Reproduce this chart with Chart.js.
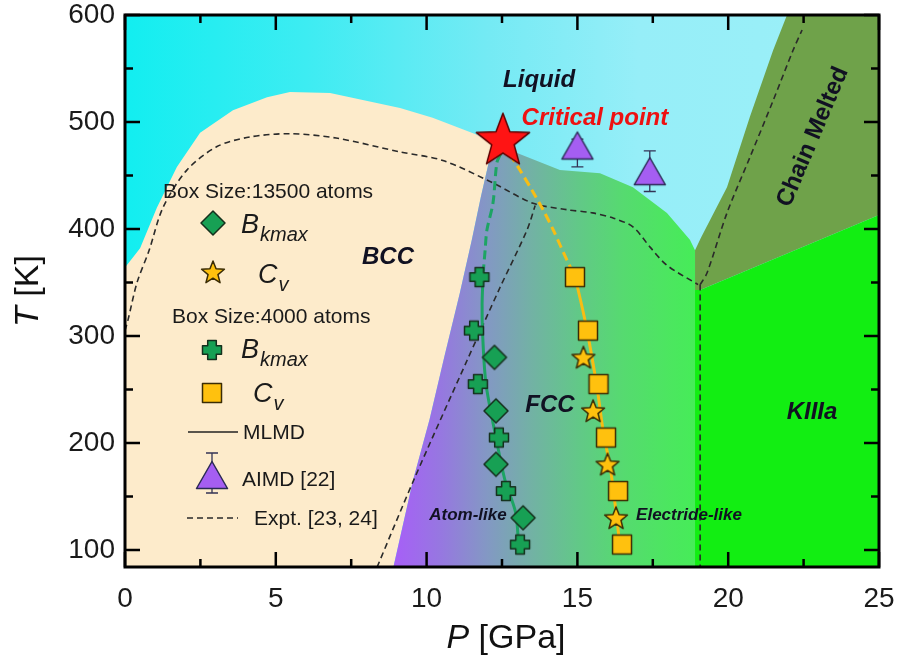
<!DOCTYPE html>
<html>
<head>
<meta charset="utf-8">
<script src="https://cdn.jsdelivr.net/npm/chart.js@4.4.1/dist/chart.umd.min.js"></script>
<style>
  html, body { margin: 0; padding: 0; background: #fff; }
</style>
</head>
<body>
<canvas id="myChart" width="897" height="663"></canvas>
<script>
const FONT = '"Liberation Sans", Arial, Helvetica, sans-serif';
Chart.defaults.font.family = FONT;

// axes
const yMin = 84;
const xTicks = [0, 5, 10, 15, 20, 25];
const xMinor = [2.5, 7.5, 12.5, 17.5, 22.5];
const yTicks = [100, 200, 300, 400, 500, 600];
const yMinor = [150, 250, 350, 450, 550];

// Box size 13500 atoms
const bk13500_P = [12.25, 12.3, 12.3, 13.2];
const bk13500_T = [280, 230, 180, 130];
const cv13500_P = [15.2, 15.52, 16.0, 16.28];
const cv13500_T = [280, 230, 180, 130];

// Box size 4000 atoms
const bk4000_P = [11.75, 11.57, 11.7, 12.4, 12.63, 13.1];
const bk4000_T = [355, 305, 255, 205, 155, 105];
const cv4000_P = [14.92, 15.35, 15.7, 15.95, 16.35, 16.48];
const cv4000_T = [355, 305, 255, 205, 155, 105];

// AIMD [22]
const aimd_P = [15.0, 17.4];
const aimd_T = [478, 454];
const aimd_errLow = [20, 19];
const aimd_errHigh = [6, 19];

const critical_P = [12.53];
const critical_T = [482];

// MLMD fitted lines
const mlmdBkDash = [[12.45, 470], [12.33, 462], [12.2, 424], [12.0, 399], [11.94, 380], [11.88, 360]];
const mlmdBk = [[11.88, 360], [11.84, 330], [11.86, 300], [11.97, 255], [12.3, 205], [12.6, 165], [12.95, 135], [13.05, 106]];
const mlmdCvDash = [[12.75, 470], [13.03, 458], [13.5, 436], [13.86, 418], [14.2, 399], [14.65, 371], [14.88, 358]];
const mlmdCv = [[14.88, 358], [15.0, 346], [15.3, 308], [15.65, 252], [15.85, 212], [16.1, 175], [16.3, 131], [16.4, 106]];

// Expt. [23, 24]
const exptMelt = [[0, 305], [0.1, 315], [0.4, 350], [0.8, 380], [1.26, 420], [2.05, 455], [3.05, 477], [4.14, 486],
  [5.47, 489], [7.0, 485], [9.12, 472], [10.54, 464], [12.2, 443], [13.53, 424], [14.65, 418], [15.5, 415],
  [16.2, 410], [16.84, 402], [17.41, 383], [17.97, 366], [19.0, 348]];
const exptVert = [[19.07, 348], [19.07, yMin]];
const exptChain = [[19.07, 348], [19.3, 359], [19.96, 415], [20.72, 467], [21.49, 520], [22.15, 567], [22.45, 586]];
const exptBccFcc = [[8.36, yMin], [9.6, 167], [11.34, 277], [12.43, 345], [13.33, 399], [13.6, 422]];

// phase regions
const liquidArea = [[0, yMin], [0, 600], [25, 600], [25, yMin]];
const bccArea = [[0, yMin], [0, 364], [0.5, 382], [1.06, 420], [1.72, 458], [2.49, 490], [3.58, 511], [4.71, 523],
  [5.47, 528], [6.8, 527], [9.12, 513], [10.2, 504], [11.67, 488], [12.3, 479],
  [12.1, 467], [11.8, 430], [11.5, 390], [11.1, 340], [10.6, 282], [10.1, 222], [9.55, 165], [8.9, yMin]];
const fccArea = [[8.9, yMin], [9.55, 165], [10.1, 222], [10.6, 282], [11.1, 340], [11.5, 390], [11.8, 430], [12.1, 467],
  [12.3, 480], [12.7, 478], [13.0, 471], [14.42, 455], [15.75, 452], [16.84, 439], [17.97, 415], [18.73, 390],
  [18.9, 380], [18.9, yMin]];
const chainArea = [[18.9, 343], [18.9, 380], [19.1, 392], [19.96, 439], [20.72, 505], [21.49, 567], [21.95, 600],
  [25, 600], [25, 413], [19.07, 343]];
const kiiiaArea = [[18.9, yMin], [18.9, 343], [19.07, 343], [25, 413], [25, yMin]];

const pts = (arr) => arr.map(([x, y]) => ({ x, y }));
const zip = (xs, ys) => xs.map((x, i) => ({ x, y: ys[i] }));

// marker images
function markerCanvas(w, h, draw) {
  const c = document.createElement("canvas");
  c.width = w;
  c.height = h;
  const g = c.getContext("2d");
  g.translate(w / 2, h / 2);
  g.lineJoin = "round";
  draw(g);
  return c;
}
function starPath(g, R, r) {
  g.beginPath();
  for (let i = 0; i < 10; i++) {
    const rad = i % 2 ? r : R;
    const a = -Math.PI / 2 + (i * Math.PI) / 5;
    g.lineTo(rad * Math.cos(a), rad * Math.sin(a));
  }
  g.closePath();
}
const GREEN = "#17a054";
const ORANGE = "#ffc10e";

const diamondImg = markerCanvas(28, 28, (g) => {
  g.beginPath();
  g.moveTo(0, -12); g.lineTo(12, 0); g.lineTo(0, 12); g.lineTo(-12, 0);
  g.closePath();
  g.fillStyle = GREEN; g.fill();
  g.strokeStyle = "#15301d"; g.lineWidth = 1.5; g.stroke();
});
const plusImg = markerCanvas(24, 24, (g) => {
  const s = 9.5, a = 4.3;
  g.beginPath();
  [[-a, -s], [a, -s], [a, -a], [s, -a], [s, a], [a, a], [a, s], [-a, s], [-a, a], [-s, a], [-s, -a], [-a, -a]]
    .forEach(([x, y]) => g.lineTo(x, y));
  g.closePath();
  g.fillStyle = GREEN; g.fill();
  g.strokeStyle = "#15301d"; g.lineWidth = 1.5; g.stroke();
});
const starImg = markerCanvas(28, 28, (g) => {
  g.translate(0, 1);
  starPath(g, 12, 5.2);
  g.fillStyle = ORANGE; g.fill();
  g.strokeStyle = "#3a2c05"; g.lineWidth = 1.5; g.stroke();
});
const squareImg = markerCanvas(24, 24, (g) => {
  g.fillStyle = ORANGE;
  g.fillRect(-9.5, -9.5, 19, 19);
  g.strokeStyle = "#3a2c05"; g.lineWidth = 1.5;
  g.strokeRect(-9.5, -9.5, 19, 19);
});
const triImg = markerCanvas(36, 32, (g) => {
  g.beginPath();
  g.moveTo(0, -13.5); g.lineTo(15.5, 13.5); g.lineTo(-15.5, 13.5);
  g.closePath();
  g.fillStyle = "#a55ef2"; g.fill();
  g.strokeStyle = "#2a2a55"; g.lineWidth = 1.5; g.stroke();
});
const critImg = markerCanvas(64, 64, (g) => {
  starPath(g, 28, 11.8);
  g.fillStyle = "#ff1414"; g.fill();
  g.strokeStyle = "#5a0000"; g.lineWidth = 1.5; g.stroke();
});

function hGrad(stops, fallback) {
  return (c) => {
    const ch = c.chart;
    if (!ch.chartArea) return fallback;
    const xs = ch.scales.x;
    const g = ch.ctx.createLinearGradient(xs.getPixelForValue(0), 0, xs.getPixelForValue(25), 0);
    stops.forEach(([p, col]) => g.addColorStop(p / 25, col));
    return g;
  };
}

function area(label, points, bg, order) {
  return { label, data: pts(points), showLine: true, fill: "shape", backgroundColor: bg,
    borderWidth: 0, pointRadius: 0, tension: 0, order };
}
function curve(label, points, color, width, dash, tension, order) {
  return { label, data: pts(points), showLine: true, fill: false, borderColor: color, borderWidth: width,
    borderDash: dash, pointRadius: 0, tension, order };
}
function markers(label, data, img, order) {
  return { label, data, pointStyle: img, pointRadius: 10, showLine: false, order };
}

const datasets = [
  area("Liquid", liquidArea, hGrad([[0, "#12eef0"], [6, "#3decf2"], [12, "#74eaf4"], [17, "#96eef8"], [25, "#9cf0f8"]], "#6ef"), 14),
  area("BCC", bccArea, "#fdebcb", 13),
  area("Chain Melted", chainArea, "#6fa24a", 12),
  area("KIIIa", kiiiaArea, "#12ee12", 11),
  area("FCC", fccArea, hGrad([[0, "#a660f6"], [9, "#a660f6"], [10.5, "#9678e0"], [12, "#8398c4"], [13.5, "#72b2a4"],
    [15, "#62c888"], [16.5, "#56da70"], [18, "#4ce660"], [18.9, "#46ec58"], [25, "#46ec58"]], "#7b9"), 10),
  curve("Expt melt", exptMelt, "#2a2a2a", 1.6, [6, 4], 0.3, 5),
  curve("Expt vertical", exptVert, "#2a2a2a", 1.6, [6, 4], 0, 5),
  curve("Expt chain", exptChain, "#2a2a2a", 1.6, [6, 4], 0.3, 5),
  curve("Expt bcc-fcc", exptBccFcc, "#2a2a2a", 1.6, [6, 4], 0.3, 5),
  curve("MLMD Bk dash", mlmdBkDash, "#1da464", 3, [9, 5], 0.3, 3),
  curve("MLMD Bk", mlmdBk, "#1da464", 3, [], 0.3, 3),
  curve("MLMD Cv dash", mlmdCvDash, "#f7bd14", 3, [9, 5], 0.3, 3),
  curve("MLMD Cv", mlmdCv, "#f7bd14", 3, [], 0.3, 3),
  markers("AIMD [22]", zip(aimd_P, aimd_T), triImg, 2),
  markers("Bkmax 4000", zip(bk4000_P, bk4000_T), plusImg, 1),
  markers("Cv 4000", zip(cv4000_P, cv4000_T), squareImg, 1),
  markers("Bkmax 13500", zip(bk13500_P, bk13500_T), diamondImg, 1),
  markers("Cv 13500", zip(cv13500_P, cv13500_T), starImg, 1),
  markers("Critical point", zip(critical_P, critical_T), critImg, 0),
];

const errorBars = {
  id: "errorBars",
  beforeDatasetDraw(chart, args) {
    if (chart.data.datasets[args.index].label !== "AIMD [22]") return;
    const { ctx, scales: { x, y } } = chart;
    ctx.save();
    ctx.strokeStyle = "#333355";
    ctx.lineWidth = 1.3;
    aimd_P.forEach((p, i) => {
      const px = x.getPixelForValue(p);
      const lo = y.getPixelForValue(aimd_T[i] - aimd_errLow[i]);
      const hi = y.getPixelForValue(aimd_T[i] + aimd_errHigh[i]);
      ctx.beginPath();
      ctx.moveTo(px, lo); ctx.lineTo(px, hi);
      ctx.moveTo(px - 6, lo); ctx.lineTo(px + 6, lo);
      ctx.moveTo(px - 6, hi); ctx.lineTo(px + 6, hi);
      ctx.stroke();
    });
    ctx.restore();
  },
};

function subText(ctx, x, y, main, sub) {
  ctx.textBaseline = "alphabetic";
  ctx.textAlign = "left";
  ctx.font = `italic 27px ${FONT}`;
  ctx.fillText(main, x, y);
  const w = ctx.measureText(main).width;
  ctx.font = `italic 20px ${FONT}`;
  ctx.fillText(sub, x + w + 1, y + 8);
}
function putImg(ctx, img, cx, cy) {
  ctx.drawImage(img, cx - img.width / 2, cy - img.height / 2);
}

const labels = {
  id: "labels",
  afterDatasetsDraw(chart) {
    const { ctx, scales: { x, y } } = chart;
    const at = (p, t) => [x.getPixelForValue(p), y.getPixelForValue(t)];
    ctx.save();
    ctx.textAlign = "center";
    ctx.textBaseline = "middle";
    ctx.fillStyle = "#111122";
    ctx.font = `italic bold 24px ${FONT}`;
    ctx.fillText("Liquid", ...at(13.73, 539));
    ctx.fillText("BCC", ...at(8.72, 373));
    ctx.fillText("FCC", ...at(14.09, 235));
    ctx.fillText("KIIIa", ...at(22.78, 229));
    ctx.fillStyle = "#ee1111";
    ctx.fillText("Critical point", ...at(15.58, 503));
    ctx.fillStyle = "#111122";
    ctx.font = `italic bold 17px ${FONT}`;
    ctx.fillText("Atom-like", ...at(11.37, 132.6));
    ctx.fillText("Electride-like", ...at(18.7, 132.6));
    ctx.save();
    ctx.translate(...at(22.81, 486));
    ctx.rotate((-67 * Math.PI) / 180);
    ctx.font = `bold 24px ${FONT}`;
    ctx.fillText("Chain Melted", 0, 0);
    ctx.restore();

    // inset legend
    ctx.fillStyle = "#1a1a1a";
    ctx.textAlign = "left";
    ctx.font = `21px ${FONT}`;
    ctx.fillText("Box Size:13500 atoms", 163, 192);
    putImg(ctx, diamondImg, 213, 223);
    subText(ctx, 241, 233, "B", "kmax");
    putImg(ctx, starImg, 213, 272);
    subText(ctx, 258, 283, "C", "v");
    ctx.textBaseline = "middle";
    ctx.font = `21px ${FONT}`;
    ctx.fillText("Box Size:4000 atoms", 172, 317);
    putImg(ctx, plusImg, 212, 350);
    subText(ctx, 241, 358, "B", "kmax");
    putImg(ctx, squareImg, 212, 393);
    subText(ctx, 253, 402, "C", "v");

    ctx.textBaseline = "middle";
    ctx.font = `21px ${FONT}`;
    ctx.strokeStyle = "#222";
    ctx.lineWidth = 1.5;
    ctx.beginPath(); ctx.moveTo(188, 432); ctx.lineTo(238, 432); ctx.stroke();
    ctx.fillText("MLMD", 243, 433);

    ctx.strokeStyle = "#333355";
    ctx.lineWidth = 1.3;
    ctx.beginPath();
    ctx.moveTo(212, 453); ctx.lineTo(212, 493);
    ctx.moveTo(206, 453); ctx.lineTo(218, 453);
    ctx.moveTo(206, 493); ctx.lineTo(218, 493);
    ctx.stroke();
    putImg(ctx, triImg, 212, 475);
    ctx.fillText("AIMD [22]", 242, 480);

    ctx.strokeStyle = "#2a2a2a";
    ctx.lineWidth = 1.6;
    ctx.setLineDash([6, 4]);
    ctx.beginPath(); ctx.moveTo(187, 518); ctx.lineTo(238, 518); ctx.stroke();
    ctx.setLineDash([]);
    ctx.fillText("Expt. [23, 24]", 254, 519);
    ctx.restore();
  },
};

const frame = {
  id: "frame",
  afterDraw(chart) {
    const { ctx, chartArea: a, scales: { x, y } } = chart;
    ctx.save();
    ctx.strokeStyle = "#000";
    ctx.lineWidth = 2.5;
    ctx.beginPath();
    const tx = (v, len) => {
      const px = x.getPixelForValue(v);
      ctx.moveTo(px, a.bottom); ctx.lineTo(px, a.bottom - len);
      ctx.moveTo(px, a.top); ctx.lineTo(px, a.top + len);
    };
    const ty = (v, len) => {
      const py = y.getPixelForValue(v);
      ctx.moveTo(a.left, py); ctx.lineTo(a.left + len, py);
      ctx.moveTo(a.right, py); ctx.lineTo(a.right - len, py);
    };
    xTicks.forEach((v) => tx(v, 15));
    xMinor.forEach((v) => tx(v, 8));
    yTicks.forEach((v) => ty(v, 15));
    yMinor.forEach((v) => ty(v, 8));
    ctx.stroke();
    ctx.lineWidth = 3;
    ctx.strokeRect(a.left, a.top, a.width, a.height);

    // axis titles
    ctx.fillStyle = "#111";
    ctx.textBaseline = "alphabetic";
    ctx.textAlign = "left";
    const title = (italic, rest) => {
      ctx.font = `italic 34px ${FONT}`;
      const w1 = ctx.measureText(italic).width;
      ctx.font = `34px ${FONT}`;
      const w2 = ctx.measureText(rest).width;
      const start = -(w1 + w2) / 2;
      ctx.font = `italic 34px ${FONT}`;
      ctx.fillText(italic, start, 0);
      ctx.font = `34px ${FONT}`;
      ctx.fillText(rest, start + w1, 0);
    };
    ctx.save();
    ctx.translate((a.left + a.right) / 2 + 4, 648);
    title("P", " [GPa]");
    ctx.restore();
    ctx.save();
    ctx.translate(38, (a.top + a.bottom) / 2);
    ctx.rotate(-Math.PI / 2);
    title("T", " [K]");
    ctx.restore();
    ctx.restore();
  },
};

const config = {
  type: "scatter",
  data: { datasets },
  options: {
    responsive: false,
    animation: false,
    devicePixelRatio: 1,
    layout: { padding: { left: 0, top: 15, right: 18, bottom: 0 } },
    plugins: { legend: { display: false }, tooltip: { enabled: false } },
    scales: {
      x: {
        type: "linear",
        min: 0,
        max: 25,
        afterBuildTicks: (s) => { s.ticks = xTicks.map((v) => ({ value: v })); },
        afterFit: (s) => { s.height = 96; s.paddingLeft = 0; s.paddingRight = 0; },
        grid: { display: false, drawTicks: false },
        border: { display: false },
        ticks: { font: { size: 28, lineHeight: 1 }, color: "#1a1a1a", padding: 18, maxRotation: 0 },
      },
      y: {
        type: "linear",
        min: yMin,
        max: 600,
        afterBuildTicks: (s) => { s.ticks = yTicks.map((v) => ({ value: v })); },
        afterFit: (s) => { s.width = 125; s.paddingTop = 0; s.paddingBottom = 0; },
        grid: { display: false, drawTicks: false },
        border: { display: false },
        ticks: { font: { size: 28, lineHeight: 1 }, color: "#1a1a1a", padding: 10 },
      },
    },
  },
  plugins: [errorBars, labels, frame],
};

document.addEventListener("DOMContentLoaded", function () {
  const ctx = document.getElementById("myChart").getContext("2d");
  new Chart(ctx, config);
});
</script>
</body>
</html>
